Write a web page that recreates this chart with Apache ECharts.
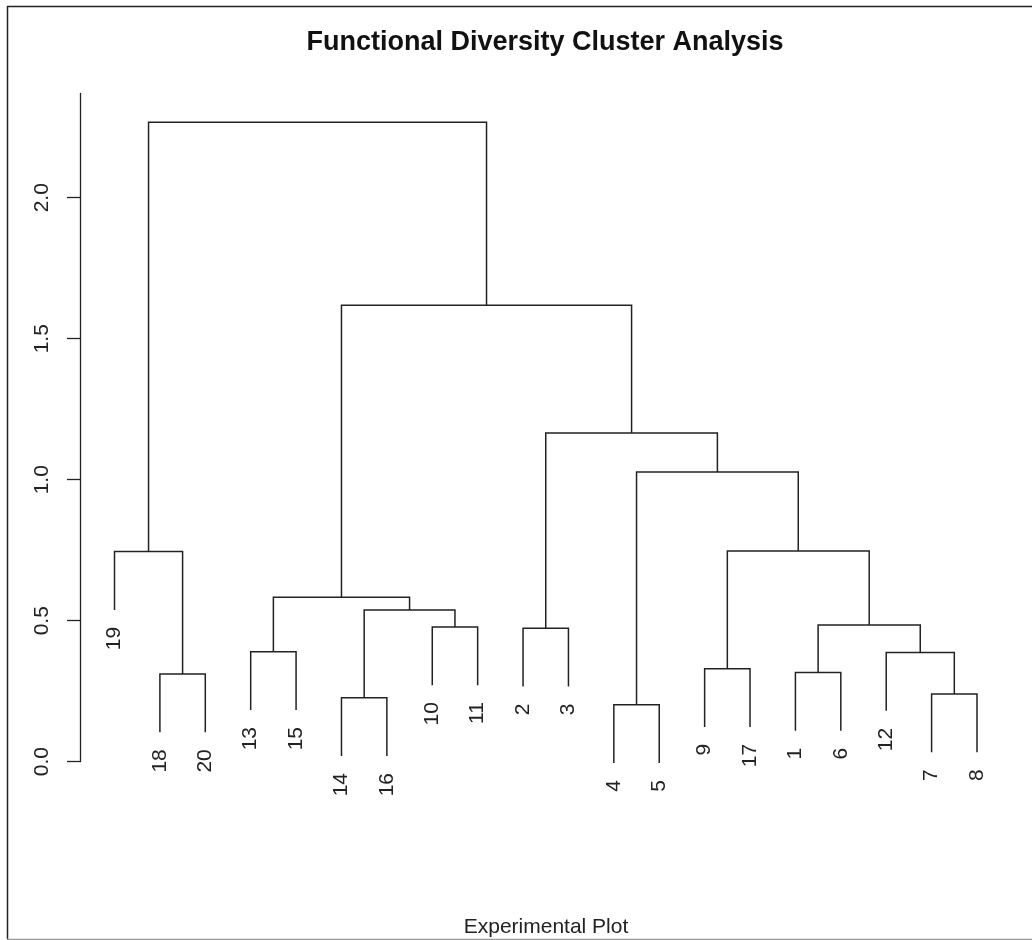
<!DOCTYPE html>
<html>
<head>
<meta charset="utf-8">
<title>Functional Diversity Cluster Analysis</title>
<script src="https://cdn.jsdelivr.net/npm/echarts/dist/echarts.min.js"></script>
<style>
  html, body { margin: 0; padding: 0; background: #fff; }
  #chart { width: 1032px; height: 940px; }
</style>
</head>
<body>
<div id="chart"></div>
<script>
// leaves in the order they are drawn, left to right
const leafOrder = [19, 18, 20, 13, 15, 14, 16, 10, 11, 2, 3, 4, 5, 9, 17, 1, 6, 12, 7, 8];

// hclust style merge table: negative = observation, positive = earlier merge (1-based)
const mergeLeft   = [-4, -14, -7, -18, -1, -9, -12, -13, -2, -10, 5, 2, 8, -19, 6, 1, 9, 13, 14];
const mergeRight  = [-5, -16, -8, -20, -6, -17, 3, -15, -3, -11, 7, 10, 12, 4, 11, 15, 16, 17, 18];
const mergeHeight = [0.202, 0.227, 0.240, 0.311, 0.316, 0.330, 0.387, 0.390, 0.473, 0.478,
                     0.485, 0.538, 0.583, 0.745, 0.747, 1.027, 1.166, 1.619, 2.268];

const yTicks = [0, 0.5, 1.0, 1.5, 2.0];

const FONT = 'Liberation Sans, Arial, sans-serif';
const INK = '#222';

// leaves hang below their merge by 10% of the height range (like plot.hclust)
const hang = 0.1 * (Math.max(...mergeHeight) - Math.min(...mergeHeight));

// x position of every merge = mean of its two children
const mergeX = [];
function childX(c) {
  return c < 0 ? leafOrder.indexOf(-c) : mergeX[c - 1];
}
const links = [];
const leafBottoms = new Array(leafOrder.length);
for (let i = 0; i < mergeHeight.length; i++) {
  const h = mergeHeight[i];
  const l = mergeLeft[i], r = mergeRight[i];
  const xl = childX(l), xr = childX(r);
  const yl = l < 0 ? h - hang : mergeHeight[l - 1];
  const yr = r < 0 ? h - hang : mergeHeight[r - 1];
  if (l < 0) leafBottoms[xl] = yl;
  if (r < 0) leafBottoms[xr] = yr;
  mergeX.push((xl + xr) / 2);
  links.push([xl, yl, xr, yr, h]);
}
const leafData = leafBottoms.map((b, i) => [i, b]);

const chart = echarts.init(document.getElementById('chart'));

const option = {
  backgroundColor: '#fff',
  animation: false,
  grid: { left: 80, right: 20.5, top: 93.4, bottom: 178.3 },
  xAxis: { type: 'value', min: -0.76, max: leafOrder.length - 1 + 0.76, show: false },
  yAxis: {
    type: 'value',
    min: 0,
    max: 2.37,
    splitLine: { show: false },
    axisLine: { show: true, onZero: false, lineStyle: { color: INK, width: 1.3 } },
    axisTick: { show: true, length: 13, customValues: yTicks, lineStyle: { color: INK, width: 1.3 } },
    axisLabel: {
      customValues: yTicks,
      rotate: 90,
      margin: 27,
      fontSize: 21,
      fontFamily: FONT,
      color: INK,
      formatter: v => v.toFixed(1)
    }
  },
  graphic: [
    { type: 'text', x: 545, y: 43, style: { text: 'Functional Diversity Cluster Analysis', fontSize: 27, fontWeight: 'bold', fontFamily: FONT, fill: '#111', align: 'center', verticalAlign: 'middle' } },
    { type: 'text', x: 546, y: 927, style: { text: 'Experimental Plot', fontSize: 21, fontFamily: FONT, fill: INK, align: 'center', verticalAlign: 'middle' } },
    { type: 'line', shape: { x1: 7, y1: 6.5, x2: 1032, y2: 6.5 }, style: { stroke: '#222', lineWidth: 1.5 } },
    { type: 'line', shape: { x1: 7.5, y1: 6, x2: 7.5, y2: 939 }, style: { stroke: '#222', lineWidth: 1.5 } },
    { type: 'line', shape: { x1: 7, y1: 939.5, x2: 1032, y2: 939.5 }, style: { stroke: '#9a9a9a', lineWidth: 1.5 } }
  ],
  series: [
    {
      type: 'custom',
      name: 'links',
      clip: false,
      data: links,
      renderItem: function (params, api) {
        const pl = api.coord([api.value(0), api.value(1)]);
        const tl = api.coord([api.value(0), api.value(4)]);
        const tr = api.coord([api.value(2), api.value(4)]);
        const pr = api.coord([api.value(2), api.value(3)]);
        return {
          type: 'polyline',
          shape: { points: [pl, tl, tr, pr] },
          style: { stroke: INK, lineWidth: 1.5, fill: null }
        };
      }
    },
    {
      type: 'custom',
      name: 'labels',
      clip: false,
      data: leafData,
      renderItem: function (params, api) {
        const p = api.coord([api.value(0), api.value(1)]);
        return {
          type: 'text',
          x: p[0],
          y: p[1] + 17,
          rotation: Math.PI / 2,
          style: {
            text: String(leafOrder[params.dataIndex]),
            fontSize: 21,
            fontFamily: FONT,
            fill: INK,
            align: 'right',
            verticalAlign: 'middle'
          }
        };
      }
    }
  ]
};

chart.setOption(option);
</script>
</body>
</html>
